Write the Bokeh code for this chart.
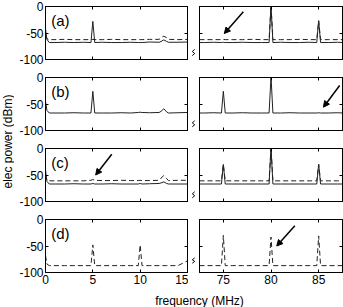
import math
from bokeh.plotting import figure
from bokeh.models import Range1d, FixedTicker, LinearAxis, Arrow, NormalHead, Label
from bokeh.layouts import row, column
from bokeh.embed import file_html
from bokeh.resources import INLINE
from bokeh.core.properties import value

FONT = "Liberation Sans"

# ---------------- data ----------------
freq_lo = [0, 0.15, 0.4, 1, 2, 3, 4, 4.8, 5.0, 5.2, 6, 7, 8, 9, 9.8, 10, 10.2, 11, 12, 12.2, 12.5, 12.8, 13, 14, 15]
freq_hi = [72.5, 73, 74, 74.8, 75, 75.2, 76, 77, 78, 79, 79.8, 80, 80.2, 81, 82, 83, 84, 84.8, 85, 85.2, 86, 87, 87.5]

a_lo_solid = [-42, -62, -68, -68, -67.5, -68, -67.5, -68, -28, -68, -67.5, -68, -68, -67.5, -68, -68, -68, -67, -67.5, -66, -63, -66, -67.5, -67.5, -67]
a_lo_dash = [-55, -61, -62.5, -62.5, -62, -62.5, -62.5, -62.5, -62, -62.5, -62.5, -62, -62.5, -62.5, -62.5, -62.5, -62.5, -62, -62, -59, -56, -59, -62, -62.5, -62]
a_hi_solid = [-68, -68, -67.5, -68, -67.5, -68, -68, -67.5, -68, -68, -68, 2, -68, -67.5, -68, -68, -67.5, -68, -27, -68, -68, -67.5, -68]
a_hi_dash = [-62.5, -62.5, -62.5, -62.5, -62, -62.5, -62.5, -62.5, -62, -62.5, -62.5, 2, -62.5, -62.5, -62.5, -62, -62.5, -62.5, -27, -62.5, -62.5, -62.5, -62.5]

b_lo_solid = [-45, -62, -67, -67, -67, -66.5, -67, -67, -26, -67, -67, -67, -66.5, -67, -66, -65.5, -66, -66.5, -66, -64, -59, -65, -67, -66.5, -66]
b_hi_solid = [-67, -67, -66.5, -67, -26, -67, -67, -66.5, -67, -67, -67, 2, -67, -67, -66.5, -67, -67, -67, -66.5, -67, -67, -66.5, -67]

c_lo_solid = [-40, -62, -67, -67, -67, -66.5, -67, -67, -66, -67, -67, -66.5, -67, -67, -67, -66, -67, -66.5, -66, -65, -63, -66, -67, -67, -67]
c_lo_dash = [-50, -60, -61, -61, -61, -61, -61, -60, -58.5, -60, -60.5, -60.5, -60, -60.5, -60.5, -60, -60.5, -60.5, -60, -56, -51, -57, -60.5, -60, -60]
c_hi_solid = [-67, -67, -67, -67, -30, -67, -67, -67, -67, -67, -67, 2, -67, -67, -67, -67, -67, -67, -30, -67, -67, -67, -67]
c_hi_dash = [-61, -61, -61, -61, -30, -61, -61, -61, -61, -61, -61, 2, -61, -61, -61, -61, -61, -61, -30, -61, -61, -61, -61]

d_lo_dash = [-68, -84, -87, -87, -87, -87, -87, -87, -48, -87, -87, -87, -87, -87, -87, -48, -87, -87, -87, -87, -87, -87, -87, -87, -78]
d_hi_dash = [-87, -87, -87, -87, -30, -87, -87, -87, -87, -87, -87, -33, -87, -87, -87, -87, -87, -87, -31, -87, -87, -87, -87]

panel_labels = ["(a)", "(b)", "(c)", "(d)"]
y_ticks = [-100, -50, 0]
x_ticks_lo = [0, 5, 10, 15]
x_ticks_hi = [75, 80, 85]

# arrows: (panel, side, x_start, y_start, x_end, y_end)
arrows = [
    (0, "hi", 77.1, -10, 75.1, -51),
    (1, "hi", 87.2, -15, 85.5, -56),
    (2, "lo", 7.0, -11, 5.3, -50),
    (3, "hi", 82.5, -12, 80.6, -50),
]

# small axis-break squiggle (pixel offsets around the bottom frame line)
break_dx = [-1.2, 1.2, -1.2, 1.2]
break_dy = [-4, -1.3, 1.3, 4]

rows_data = [
    ((a_lo_solid, a_lo_dash), (a_hi_solid, a_hi_dash)),
    ((b_lo_solid, None), (b_hi_solid, None)),
    ((c_lo_solid, c_lo_dash), (c_hi_solid, c_hi_dash)),
    ((None, d_lo_dash), (None, d_hi_dash)),
]

LINE_COLOR = "#222222"
FRAME_H = 53
LEFT_FRAME_W = 142
RIGHT_FRAME_W = 143
YLAB_W = 14
GAP_W = 10
LEFT_BL, LEFT_BR, RIGHT_BL, RIGHT_BR = 31, 1, 1, 1


def make_axis(ticks, show, size="12px"):
    ax = LinearAxis(
        ticker=FixedTicker(ticks=ticks),
        major_tick_in=3, major_tick_out=0,
        minor_tick_line_color=None,
        axis_line_color="black", major_tick_line_color="black",
        major_label_text_font=FONT,
        major_label_text_font_size=size if show else "0px",
        major_label_text_color="black" if show else None,
        major_label_standoff=2 if show else 0,
        major_label_overrides={t: str(t) for t in ticks},
    )
    return ax


def make_panel(side, idx, bt, bb):
    is_lo = side == "lo"
    xs = freq_lo if is_lo else freq_hi
    xr = (0, 15) if is_lo else (72.5, 87.5)
    bl = LEFT_BL if is_lo else RIGHT_BL
    br = LEFT_BR if is_lo else RIGHT_BR
    fw = LEFT_FRAME_W if is_lo else RIGHT_FRAME_W
    p = figure(width=bl + fw + br, height=bt + FRAME_H + bb,
               x_range=Range1d(*xr), y_range=Range1d(-100, 0),
               output_backend="svg", toolbar_location=None,
               x_axis_location=None, y_axis_location=None,
               min_border_left=bl, min_border_right=br,
               min_border_top=bt, min_border_bottom=bb)
    p.grid.visible = False
    p.outline_line_color = "black"
    p.background_fill_color = "white"
    p.border_fill_color = "white"
    xt = x_ticks_lo if is_lo else x_ticks_hi
    p.add_layout(make_axis(xt, idx == 3, "12px"), "below")
    p.add_layout(make_axis(xt, False), "above")
    p.add_layout(make_axis(y_ticks, is_lo), "left")
    p.add_layout(make_axis(y_ticks, False), "right")

    solid, dash = rows_data[idx][0 if is_lo else 1]
    if dash is not None:
        p.line(xs, dash, line_color=LINE_COLOR, line_width=1, line_dash="5 3")
    if solid is not None:
        p.line(xs, solid, line_color=LINE_COLOR, line_width=1)

    if is_lo:
        p.text(x=[0.6], y=[-27], text=[panel_labels[idx]], text_font=value(FONT),
               text_font_size="15px", text_align="left", text_baseline="middle",
               text_color="black")

    for (pi_, sd, x0, y0, x1, y1) in arrows:
        if pi_ == idx and sd == side:
            p.add_layout(Arrow(end=NormalHead(size=6, fill_color="black", line_color="black"),
                               x_start=x0, y_start=y0, x_end=x1, y_end=y1,
                               line_color="black", line_width=1.5))
    return p


def make_gap(bt, bb):
    h = bt + FRAME_H + bb
    g = figure(width=GAP_W, height=h, x_range=Range1d(0, GAP_W), y_range=Range1d(0, h),
               output_backend="svg", toolbar_location=None, min_border=0,
               x_axis_location=None, y_axis_location=None)
    g.grid.visible = False
    g.outline_line_color = None
    cx = GAP_W / 2
    g.line([cx + d for d in break_dx], [bb + d for d in break_dy],
           line_color="black", line_width=1)
    return g


borders = [(6, 9), (9, 9), (9, 9), (9, 18)]
rows = []
for i, (bt, bb) in enumerate(borders):
    rows.append(row(make_panel("lo", i, bt, bb), make_gap(bt, bb), make_panel("hi", i, bt, bb)))

XLAB_H = 17
total_w = (LEFT_BL + LEFT_FRAME_W + LEFT_BR) + GAP_W + (RIGHT_BL + RIGHT_FRAME_W + RIGHT_BR)
xlab = figure(width=total_w, height=XLAB_H, x_range=Range1d(0, 1), y_range=Range1d(0, 1),
              output_backend="svg", toolbar_location=None, min_border=0,
              x_axis_location=None, y_axis_location=None)
xlab.grid.visible = False
xlab.outline_line_color = None
xlab.add_layout(Label(x=185, y=7, x_units="screen", y_units="screen", text="frequency (MHz)",
                      text_font=FONT, text_font_size="12px", text_align="center",
                      text_baseline="middle", text_color="black"))

total_h = sum(bt + FRAME_H + bb for bt, bb in borders) + XLAB_H
ylab = figure(width=YLAB_W, height=total_h, x_range=Range1d(0, 1), y_range=Range1d(0, 1),
              output_backend="svg", toolbar_location=None, min_border=0,
              x_axis_location=None, y_axis_location=None)
ylab.grid.visible = False
ylab.outline_line_color = None
ylab.add_layout(Label(x=7, y=total_h - 141, x_units="screen", y_units="screen",
                      text="elec power (dBm)", angle=math.pi / 2,
                      text_font=FONT, text_font_size="12px", text_align="center",
                      text_baseline="middle", text_color="black"))

layout = row(ylab, column(*rows, xlab))

open("out.html", "w").write(file_html(layout, INLINE))
